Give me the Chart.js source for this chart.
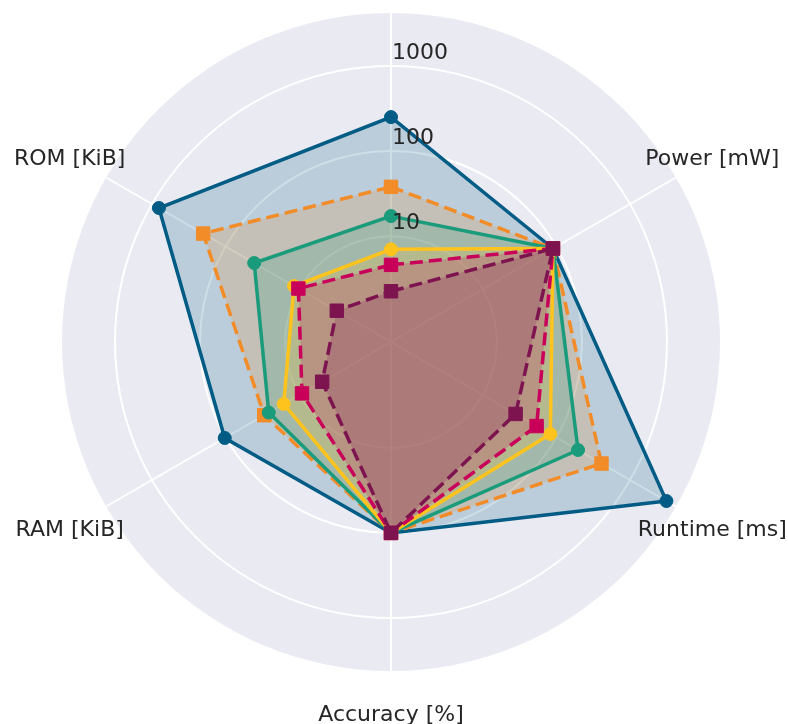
<!DOCTYPE html>
<html>
<head>
<meta charset="utf-8">
<script src="https://cdn.jsdelivr.net/npm/chart.js@4/dist/chart.umd.min.js"></script>
<style>
  html, body { margin: 0; padding: 0; background: #ffffff; }
  #wrap { position: relative; width: 788px; height: 724px; }
</style>
</head>
<body>
<div id="wrap"><canvas id="c"></canvas></div>
<script>
// ---- data ----
const categories = ['', 'Power [mW]', 'Runtime [ms]', 'Accuracy [%]', 'RAM [KiB]', 'ROM [KiB]'];
const tickValues = [10, 100, 1000];
const seriesNames = ['Model A', 'Model B', 'Model C', 'Model D', 'Model E', 'Model F'];
const seriesA = [251, 90, 3120, 100, 103, 805];
const seriesB = [38, 90, 410, 100, 30, 202];
const seriesC = [17.2, 90, 197, 100, 26, 41];
const seriesD = [7.0, 90, 83, 100, 16.3, 11.8];
const seriesE = [4.6, 90, 54, 100, 9.2, 10.3];
const seriesF = [2.25, 90, 28, 100, 4.9, 3.1];
const scaleMin = 0.57;   // value at the centre
const scaleMax = 4200;   // value at the outer edge

// ---- styles ----
const colors = ['#005C84', '#F28C28', '#1A9B7B', '#FFC31E', '#C8005A', '#7D1450'];
const dashed = [false, true, false, false, true, true];
const allSeries = [seriesA, seriesB, seriesC, seriesD, seriesE, seriesF];

function hexA(hex, a) {
  const n = parseInt(hex.slice(1), 16);
  return `rgba(${(n >> 16) & 255},${(n >> 8) & 255},${n & 255},${a})`;
}

const datasets = allSeries.map((s, i) => ({
  label: seriesNames[i],
  data: s.map(v => Math.log10(v)),
  borderColor: colors[i],
  backgroundColor: hexA(colors[i], 0.2),
  fill: 'start',
  borderWidth: 3.5,
  borderDash: dashed[i] ? [13, 6] : [],
  pointStyle: dashed[i] ? 'rect' : 'circle',
  pointRadius: dashed[i] ? 9.5 : 6.5,
  pointHoverRadius: dashed[i] ? 9.5 : 6.5,
  pointBackgroundColor: colors[i],
  pointBorderColor: colors[i],
  pointBorderWidth: 1,
  order: allSeries.length - i
}));

const FONT = '"DejaVu Sans", "Liberation Sans", sans-serif';
const TXT = '#262626';

const bgCircle = {
  id: 'bgCircle',
  beforeDraw(chart) {
    const s = chart.scales.r;
    const ctx = chart.ctx;
    ctx.save();
    ctx.beginPath();
    ctx.arc(s.xCenter, s.yCenter, s.drawingArea, 0, Math.PI * 2);
    ctx.fillStyle = '#EAEAF2';
    ctx.fill();
    ctx.restore();
  }
};

const labelsPlugin = {
  id: 'labelsPlugin',
  afterDatasetsDraw(chart) {
    const s = chart.scales.r;
    const ctx = chart.ctx;
    ctx.save();
    ctx.font = '22px ' + FONT;
    ctx.fillStyle = TXT;
    // radial tick labels
    ctx.textAlign = 'left';
    ctx.textBaseline = 'alphabetic';
    tickValues.forEach(v => {
      const d = s.getDistanceFromCenterForValue(Math.log10(v));
      ctx.fillText(String(v), s.xCenter + 1, s.yCenter - d - 7);
    });
    // category labels
    ctx.textAlign = 'center';
    categories.forEach((lab, i) => {
      if (!lab) return;
      const p = s.getPointPosition(i, s.drawingArea + 42);
      ctx.fillText(lab, p.x, p.y + 8);
    });
    ctx.restore();
  }
};

new Chart(document.getElementById('c'), {
  type: 'radar',
  data: { labels: categories, datasets: datasets },
  options: {
    responsive: true,
    maintainAspectRatio: false,
    animation: false,
    layout: { padding: { left: 62, right: 68, top: 13, bottom: 53 } },
    plugins: { legend: { display: false }, tooltip: { enabled: false } },
    elements: { line: { tension: 0 } },
    scales: {
      r: {
        min: Math.log10(scaleMin),
        max: Math.log10(scaleMax),
        afterBuildTicks(scale) {
          scale.ticks = tickValues.map(v => ({ value: Math.log10(v) }));
        },
        ticks: { display: false },
        pointLabels: { display: false },
        grid: { circular: true, color: '#ffffff', lineWidth: 2 },
        angleLines: { color: '#ffffff', lineWidth: 2 }
      }
    }
  },
  plugins: [bgCircle, labelsPlugin]
});
</script>
</body>
</html>
